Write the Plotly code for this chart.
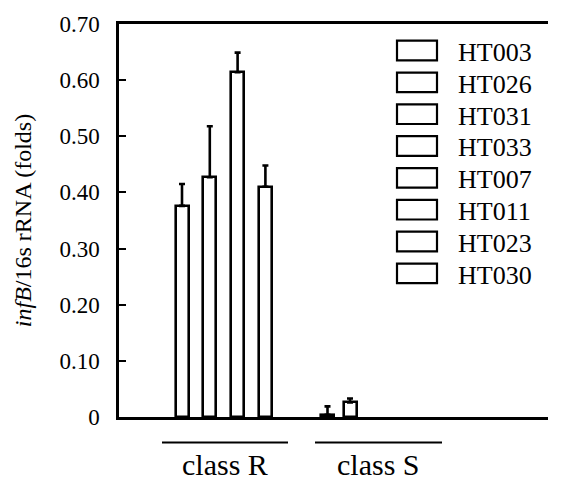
import plotly.graph_objects as go

# ---- data ----
samples = ["HT003", "HT026", "HT031", "HT033", "HT007", "HT011", "HT023", "HT030"]
groups = ["class R", "class R", "class R", "class R", "class S", "class S", "class S", "class S"]
values = [0.376, 0.427, 0.614, 0.410, 0.004, 0.026, 0.0, 0.0]
errors = [0.039, 0.091, 0.035, 0.038, 0.015, 0.007, 0.0, 0.0]
group_names = ["class R", "class S"]
y_tickvals = [0, 0.1, 0.2, 0.3, 0.4, 0.5, 0.6, 0.7]
y_ticktext = ["0", "0.10", "0.20", "0.30", "0.40", "0.50", "0.60", "0.70"]

# ---- layout helpers (x axis in pixel-like units, 0 = y axis) ----
group_first = {"class R": 63, "class S": 208.5}
group_pitch = {"class R": 27.8, "class S": 22.5}
group_line = {"class R": (43, 169), "class S": (196, 323)}

FONT = "Liberation Serif"
fig = go.Figure()

counter = {g: 0 for g in group_names}
for s, g, v, e in zip(samples, groups, values, errors):
    xpos = group_first[g] + counter[g] * group_pitch[g]
    counter[g] += 1
    fig.add_trace(go.Bar(
        x=[xpos], y=[v], width=13, name=s, showlegend=False,
        marker=dict(color="white", line=dict(color="black", width=2.6 if v > 0 else 0)),
        error_y=dict(type="data", symmetric=False, array=[e], arrayminus=[0],
                     color="black", thickness=2.6, width=3, visible=e > 0),
    ))

shapes = []
annotations = []
# group lines + labels
for g in group_names:
    x0, x1 = group_line[g]
    shapes.append(dict(type="line", xref="x", yref="paper", x0=x0, x1=x1,
                       y0=-0.065, y1=-0.065, line=dict(color="black", width=2)))
    annotations.append(dict(x=(x0 + x1) / 2, y=-0.122, xref="x", yref="paper",
                            text=g, showarrow=False, xanchor="center", yanchor="middle",
                            font=dict(family=FONT, size=30, color="black")))

# custom legend (large open boxes)
for i, s in enumerate(samples):
    yc = 0.7 - (44 + i * 32.4 - 17) / 400 * 0.7
    h = 0.7 * 10 / 400
    shapes.append(dict(type="rect", xref="x", yref="y", x0=278, x1=318,
                       y0=yc - h, y1=yc + h, line=dict(color="black", width=2.2),
                       fillcolor="white"))
    annotations.append(dict(x=337, y=yc - 0.7 * 2 / 400, xref="x", yref="y", text=s,
                            showarrow=False, xanchor="left", yanchor="middle",
                            font=dict(family=FONT, size=26, color="black")))

fig.update_layout(
    width=562, height=485,
    margin=dict(l=119, r=14, t=17, b=68),
    paper_bgcolor="white", plot_bgcolor="white",
    bargap=0, showlegend=False,
    font=dict(family=FONT, color="black"),
    shapes=shapes, annotations=annotations,
    xaxis=dict(range=[0, 429], showgrid=False, zeroline=False, showticklabels=False,
               ticks="", showline=True, linecolor="black", linewidth=2.5, mirror=True),
    yaxis=dict(range=[0, 0.7], showgrid=False, zeroline=False,
               tickvals=y_tickvals, ticktext=y_ticktext, ticks="inside", ticklen=7,
               tickwidth=2, tickcolor="black", showline=True, linecolor="black",
               linewidth=2.5, ticklabelstandoff=12,
               tickfont=dict(family=FONT, size=23, color="black"),
               title=dict(text="<i>infB</i>/16s rRNA (folds)", standoff=22,
                          font=dict(family=FONT, size=24, color="black"))),
)

fig.write_html("out.html")
